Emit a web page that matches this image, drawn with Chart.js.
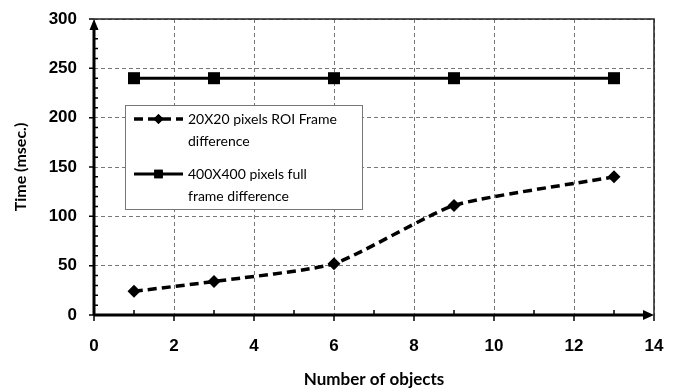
<!DOCTYPE html>
<html>
<head>
<meta charset="utf-8">
<script src="https://cdn.jsdelivr.net/npm/chart.js@4/dist/chart.umd.min.js"></script>
<style>
  html, body { margin: 0; padding: 0; background: #fff; }
  #wrap { width: 678px; height: 388px; position: relative; }
</style>
</head>
<body>
<div id="wrap"><canvas id="timeChart"></canvas></div>
<script>
// data
const objectCounts = [1, 3, 6, 9, 13];
const roiTimes = [24, 34, 52, 111, 140];
const fullFrameTimes = [240, 240, 240, 240, 240];
const seriesLabels = [
    ['20X20 pixels ROI Frame', 'difference'],
    ['400X400 pixels full', 'frame difference']
];
const xTicks = [0, 2, 4, 6, 8, 10, 12, 14];
const yTicks = [0, 50, 100, 150, 200, 250, 300];

const toPoints = (xs, ys) => xs.map((x, i) => ({ x: x, y: ys[i] }));

// axes with arrows, minor ticks, frame, and the boxed legend
const axesPlugin = {
    id: 'axesDeco',
    afterDatasetsDraw(chart) {
        const { ctx, chartArea: a, scales: { x, y } } = chart;
        ctx.save();
        // top and right frame
        ctx.strokeStyle = '#222';
        ctx.lineWidth = 1.5;
        ctx.beginPath();
        ctx.moveTo(a.left, a.top);
        ctx.lineTo(a.right, a.top);
        ctx.lineTo(a.right, a.bottom);
        ctx.stroke();

        // tick marks
        ctx.strokeStyle = '#000';
        ctx.lineWidth = 1.5;
        ctx.beginPath();
        for (let v = 0; v <= 14; v++) {
            const px = x.getPixelForValue(v);
            if (v % 2 === 0) { ctx.moveTo(px, a.bottom); ctx.lineTo(px, a.bottom + 6); }
            else { ctx.moveTo(px, a.bottom); ctx.lineTo(px, a.bottom - 5); }
        }
        for (let v = 0; v <= 300; v += 10) {
            const py = y.getPixelForValue(v);
            if (v % 50 === 0) { ctx.moveTo(a.left - 5, py); ctx.lineTo(a.left, py); }
            else { ctx.moveTo(a.left, py); ctx.lineTo(a.left + 4, py); }
        }
        ctx.stroke();

        // main axes
        ctx.lineWidth = 3;
        ctx.beginPath();
        ctx.moveTo(a.left, a.bottom);
        ctx.lineTo(a.right - 8, a.bottom);
        ctx.moveTo(a.left, a.bottom);
        ctx.lineTo(a.left, a.top + 8);
        ctx.stroke();
        ctx.fillStyle = '#000';
        ctx.beginPath();
        ctx.moveTo(a.right, a.bottom);
        ctx.lineTo(a.right - 11, a.bottom - 5);
        ctx.lineTo(a.right - 11, a.bottom + 5);
        ctx.closePath();
        ctx.fill();
        ctx.beginPath();
        ctx.moveTo(a.left, a.top);
        ctx.lineTo(a.left - 4.5, a.top + 11);
        ctx.lineTo(a.left + 4.5, a.top + 11);
        ctx.closePath();
        ctx.fill();

        // legend box
        const bx = 125, by = 105, bw = 237, bh = 104;
        ctx.fillStyle = '#fff';
        ctx.fillRect(bx, by, bw, bh);
        ctx.strokeStyle = '#777';
        ctx.lineWidth = 1;
        ctx.strokeRect(bx + 0.5, by + 0.5, bw, bh);

        const rows = [119, 174];
        chart.data.datasets.forEach((ds, i) => {
            const ly = rows[i];
            ctx.strokeStyle = '#000';
            ctx.fillStyle = '#000';
            ctx.lineWidth = ds.borderWidth;
            ctx.setLineDash(ds.borderDash || []);
            ctx.beginPath();
            ctx.moveTo(134, ly);
            ctx.lineTo(183, ly);
            ctx.stroke();
            ctx.setLineDash([]);
            Chart.helpers.drawPoint(ctx, {
                pointStyle: ds.pointStyle,
                radius: i === 0 ? 5 : 6,
                borderWidth: 0
            }, 158.5, ly);
            ctx.fill();
            ctx.font = '14px Lato';
            ctx.textBaseline = 'middle';
            ctx.textAlign = 'left';
            ds.label.forEach((line, k) => ctx.fillText(line, 188, ly + k * 22));
        });
        ctx.restore();
    }
};

new Chart(document.getElementById('timeChart'), {
    type: 'line',
    data: {
        datasets: [{
            label: seriesLabels[0],
            data: toPoints(objectCounts, roiTimes),
            borderColor: '#000',
            backgroundColor: '#000',
            borderWidth: 3.5,
            borderDash: [9, 5],
            tension: 0.18,
            pointStyle: 'rectRot',
            pointRadius: 6.5,
            pointBorderWidth: 0
        }, {
            label: seriesLabels[1],
            data: toPoints(objectCounts, fullFrameTimes),
            borderColor: '#000',
            backgroundColor: '#000',
            borderWidth: 3,
            tension: 0,
            pointStyle: 'rect',
            pointRadius: 8.5,
            pointBorderWidth: 0
        }]
    },
    options: {
        responsive: true,
        maintainAspectRatio: false,
        animation: false,
        layout: { padding: { left: 0, top: 19, right: 24, bottom: 0 } },
        plugins: { legend: { display: false }, tooltip: { enabled: false } },
        scales: {
            x: {
                type: 'linear',
                min: 0,
                max: 14,
                afterBuildTicks: s => { s.ticks = xTicks.map(v => ({ value: v })); },
                afterFit: s => { s.height = 73; s.paddingLeft = 0; s.paddingRight = 0; },
                border: { display: false, dash: [4, 3] },
                grid: { color: '#777', lineWidth: 1, drawTicks: false },
                ticks: { color: '#000', padding: 21, font: { family: 'Liberation Sans', size: 17, weight: 'bold' } },
                title: {
                    display: true,
                    text: 'Number of objects',
                    color: '#000',
                    padding: { top: 15, bottom: -2 },
                    font: { family: 'Lato', size: 17, weight: 'bold' }
                }
            },
            y: {
                min: 0,
                max: 300,
                afterBuildTicks: s => { s.ticks = yTicks.map(v => ({ value: v })); },
                afterFit: s => { s.width = 94; s.paddingTop = 0; s.paddingBottom = 0; },
                border: { display: false, dash: [4, 3] },
                grid: { color: '#777', lineWidth: 1, drawTicks: false },
                ticks: { color: '#000', padding: 17, font: { family: 'Liberation Sans', size: 17, weight: 'bold' } },
                title: {
                    display: true,
                    text: 'Time (msec.)',
                    color: '#000',
                    padding: { top: 11, bottom: 0 },
                    font: { family: 'Lato', size: 16, weight: 'bold' }
                }
            }
        }
    },
    plugins: [axesPlugin]
});
</script>
</body>
</html>
